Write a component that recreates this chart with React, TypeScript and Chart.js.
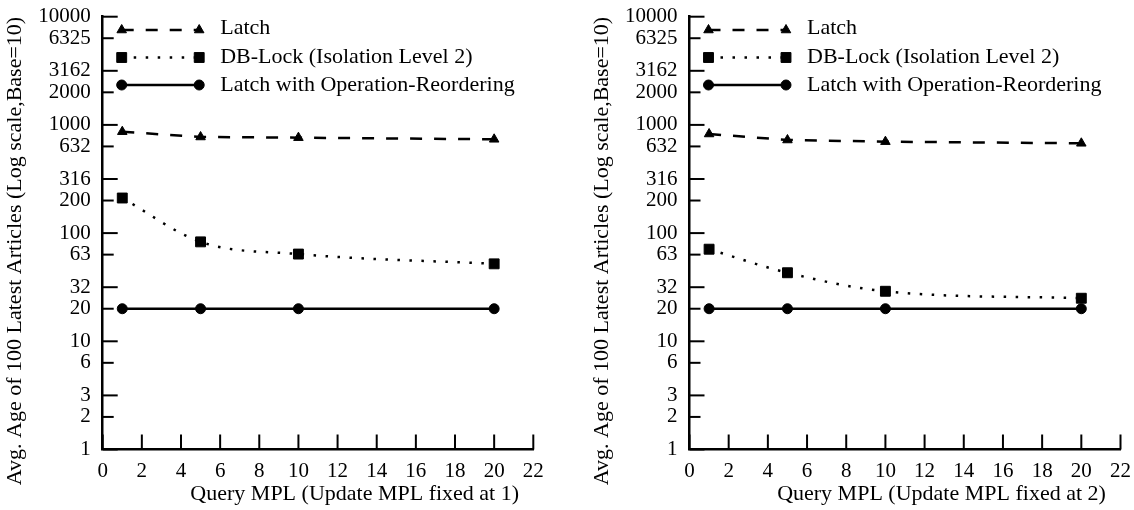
import React, { useEffect, useRef } from 'react';
import { Chart, registerables } from 'chart.js';
import { drawPoint } from 'chart.js/helpers';

Chart.register(...registerables);

const xValues = [1, 5, 10, 20];
const latch1 = [865, 773, 762, 736];
const dbLock1 = [211, 83, 64, 52];
const reorder1 = [20, 20, 20, 20];
const latch2 = [824, 725, 700, 676];
const dbLock2 = [71, 43, 29, 25];
const reorder2 = [20, 20, 20, 20];

const yTickValues = [1, 2, 3.162, 6.325, 10, 20, 31.62, 63.25, 100, 200, 316.2, 632.5, 1000, 2000, 3162, 6325, 10000];
const yTickLabels = ['1', '2', '3', '6', '10', '20', '32', '63', '100', '200', '316', '632', '1000', '2000', '3162', '6325', '10000'];
const xTickValues = [0, 2, 4, 6, 8, 10, 12, 14, 16, 18, 20, 22];

const seriesNames = ['Latch', 'DB-Lock (Isolation Level 2)', 'Latch with Operation-Reordering'];
const xTitles = ['Query MPL (Update MPL fixed at 1)', 'Query MPL (Update MPL fixed at 2)'];
const yTitle = 'Avg. Age of 100 Latest Articles (Log scale,Base=10)';

const FONT = '"Liberation Serif", "DejaVu Serif", serif';
const FS = 21;
const FS_TEXT = 22;
const CH = 510;
const AREA_TOP = 16.7;
const AREA_BOTTOM = 449.5;

const panels = [
  { left: 0, width: 567, areaLeft: 102.7, areaRight: 533.3, yTitleX: 15, xTitle: xTitles[0], data: [latch1, dbLock1, reorder1] },
  { left: 567, width: 567, areaLeft: 122.5, areaRight: 553.5, yTitleX: 35, xTitle: xTitles[1], data: [latch2, dbLock2, reorder2] },
];

const zeroPad = (s: any) => {
  s.paddingTop = 0;
  s.paddingBottom = 0;
  s.paddingLeft = 0;
  s.paddingRight = 0;
};

const decorPlugin = {
  id: 'decor',
  afterDraw(chart: any, _args: any, opts: any) {
    const { ctx, chartArea } = chart;
    const xs = chart.scales.x;
    const ys = chart.scales.y;
    ctx.save();
    ctx.strokeStyle = '#000';
    ctx.fillStyle = '#000';
    ctx.lineWidth = 2;
    ctx.setLineDash([]);
    // inward tick marks
    yTickValues.forEach((v, i) => {
      const y = ys.getPixelForValue(v);
      const len = i % 2 === 0 ? 15 : 11;
      ctx.beginPath();
      ctx.moveTo(chartArea.left, y);
      ctx.lineTo(chartArea.left + len, y);
      ctx.stroke();
    });
    xTickValues.forEach((v) => {
      const x = xs.getPixelForValue(v);
      ctx.beginPath();
      ctx.moveTo(x, chartArea.bottom);
      ctx.lineTo(x, chartArea.bottom - 15);
      ctx.stroke();
    });
    // legend
    const rows = [30, 57.5, 85];
    const textRows = [28.5, 57, 85];
    const x1 = chartArea.left + 19;
    const x2 = chartArea.left + 96.5;
    const tx = chartArea.left + 117.5;
    chart.data.datasets.forEach((ds: any, i: number) => {
      const y = rows[i];
      ctx.lineWidth = ds.borderWidth;
      ctx.setLineDash(ds.borderDash || []);
      ctx.beginPath();
      ctx.moveTo(x1, y);
      ctx.lineTo(x2, y);
      ctx.stroke();
      ctx.setLineDash([]);
      ctx.lineWidth = 1;
      const po = { pointStyle: ds.pointStyle, rotation: 0, radius: ds.pointRadius, borderWidth: 1 };
      drawPoint(ctx, po, x1, y);
      drawPoint(ctx, po, x2, y);
      ctx.font = `${FS_TEXT}px ${FONT}`;
      ctx.textAlign = 'left';
      ctx.textBaseline = 'middle';
      ctx.fillText(ds.label, tx, textRows[i]);
    });
    // axis titles
    ctx.font = `${FS_TEXT}px ${FONT}`;
    ctx.textAlign = 'center';
    ctx.textBaseline = 'middle';
    ctx.fillText(opts.xTitle, chartArea.left + 252, 494);
    ctx.save();
    ctx.translate(opts.yTitleX, 251);
    ctx.rotate(-Math.PI / 2);
    ctx.fillText(yTitle, 0, 0);
    ctx.restore();
    ctx.restore();
  },
};

function Panel({ p }: { p: typeof panels[number] }) {
  const ref = useRef<HTMLCanvasElement | null>(null);
  useEffect(() => {
    if (!ref.current) return;
    const mk = (vals: number[]) => xValues.map((x, i) => ({ x, y: vals[i] }));
    const chart = new Chart(ref.current, {
      type: 'line',
      data: {
        datasets: [
          {
            label: seriesNames[0],
            data: mk(p.data[0]),
            borderColor: '#000',
            backgroundColor: '#000',
            borderWidth: 2.5,
            borderDash: [12, 12],
            pointStyle: 'triangle',
            pointRadius: 5.5,
            pointBorderWidth: 1,
            pointBackgroundColor: '#000',
            pointBorderColor: '#000',
            tension: 0,
          },
          {
            label: seriesNames[1],
            data: mk(p.data[1]),
            borderColor: '#000',
            backgroundColor: '#000',
            borderWidth: 2.5,
            borderDash: [2.5, 9.5],
            pointStyle: 'rect',
            pointRadius: 7,
            pointBorderWidth: 1,
            pointBackgroundColor: '#000',
            pointBorderColor: '#000',
            cubicInterpolationMode: 'monotone',
          },
          {
            label: seriesNames[2],
            data: mk(p.data[2]),
            borderColor: '#000',
            backgroundColor: '#000',
            borderWidth: 2.5,
            pointStyle: 'circle',
            pointRadius: 5,
            pointBorderWidth: 1,
            pointBackgroundColor: '#000',
            pointBorderColor: '#000',
            tension: 0,
          },
        ] as any,
      },
      options: {
        responsive: false,
        animation: false,
        devicePixelRatio: 1,
        layout: { padding: { left: 0, top: AREA_TOP, right: p.width - p.areaRight, bottom: 0 } },
        plugins: {
          legend: { display: false },
          tooltip: { enabled: false },
          decor: { xTitle: p.xTitle, yTitleX: p.yTitleX },
        } as any,
        scales: {
          x: {
            type: 'linear',
            min: 0,
            max: 22,
            grid: { display: false, drawTicks: false },
            border: { display: true, width: 2.5, color: '#000' },
            ticks: { stepSize: 2, color: '#000', font: { family: FONT, size: FS }, padding: 9, maxRotation: 0, autoSkip: false },
            afterFit: (s: any) => { s.height = CH - AREA_BOTTOM; zeroPad(s); },
          },
          y: {
            type: 'logarithmic',
            min: 1,
            max: 10000,
            grid: { display: false, drawTicks: false },
            border: { display: true, width: 2.5, color: '#000' },
            afterBuildTicks: (s: any) => { s.ticks = yTickValues.map((v) => ({ value: v })); },
            ticks: {
              autoSkip: false,
              color: '#000',
              font: { family: FONT, size: FS },
              padding: 12,
              callback: (_v: any, i: number) => yTickLabels[i],
            },
            afterFit: (s: any) => { s.width = p.areaLeft; zeroPad(s); },
          },
        },
      } as any,
      plugins: [decorPlugin],
    });
    return () => chart.destroy();
  }, [p]);
  return (
    <canvas
      ref={ref}
      width={p.width}
      height={CH}
      style={{ position: 'absolute', left: p.left, top: 0, width: p.width, height: CH, display: 'block' }}
    />
  );
}

export default function App() {
  return (
    <div style={{ position: 'absolute', left: 0, top: 0, width: 1134, height: CH, background: '#fff' }}>
      {panels.map((p, i) => (
        <Panel key={i} p={p} />
      ))}
    </div>
  );
}
